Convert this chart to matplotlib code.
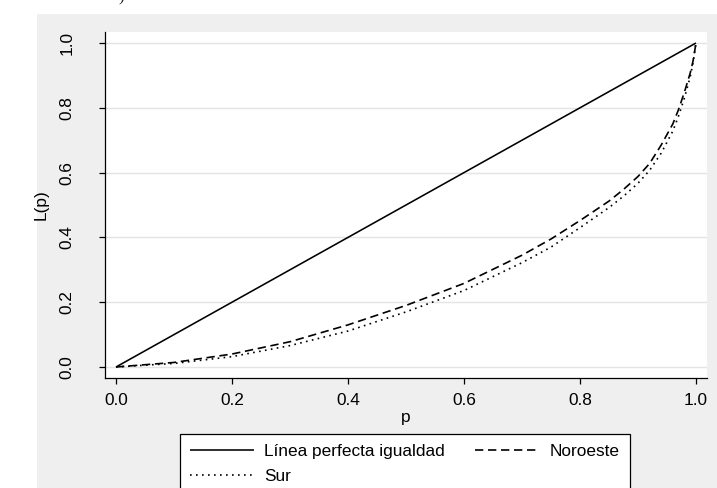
import numpy as np
import matplotlib
matplotlib.use("Agg")
import matplotlib.pyplot as plt
from matplotlib.patches import Rectangle

# Lorenz curve points (population share p, income share L(p))
p_noroeste = [0.0, 0.1, 0.2, 0.3, 0.4, 0.5, 0.6, 0.7, 0.75, 0.8, 0.85,
              0.875, 0.9, 0.92, 0.94, 0.96, 0.97, 0.98, 0.99, 0.995, 1.0]
l_noroeste = [0.0, 0.014, 0.040, 0.078, 0.130, 0.190, 0.258, 0.345, 0.395,
              0.452, 0.512, 0.548, 0.588, 0.628, 0.685, 0.750, 0.795,
              0.848, 0.907, 0.945, 1.0]

p_sur = [0.0, 0.1, 0.2, 0.3, 0.4, 0.5, 0.6, 0.7, 0.75, 0.8, 0.85,
         0.875, 0.9, 0.92, 0.94, 0.96, 0.97, 0.98, 0.99, 0.995, 1.0]
l_sur = [0.0, 0.011, 0.032, 0.066, 0.111, 0.170, 0.236, 0.322, 0.370,
         0.430, 0.492, 0.527, 0.567, 0.607, 0.660, 0.728, 0.775,
         0.830, 0.895, 0.940, 1.0]

p_igualdad = [0.0, 1.0]
l_igualdad = [0.0, 1.0]

ticks = [0.0, 0.2, 0.4, 0.6, 0.8, 1.0]
tick_labels = ["0.0", "0.2", "0.4", "0.6", "0.8", "1.0"]

plt.rcParams['font.family'] = ['Liberation Sans', 'DejaVu Sans']
plt.rcParams['font.size'] = 12.4

W, H = 717, 488
fig = plt.figure(figsize=(W / 100, H / 100), dpi=100, facecolor='white')

# light gray graph region behind the plot
fig.patches.append(Rectangle((37 / W, 0), 1 - 37 / W, 1 - 14 / H,
                             transform=fig.transFigure, facecolor='#efefef',
                             edgecolor='none', zorder=-5))

# leftover of surrounding text at the very top
fig.text(121 / W, 1 - 1 / H, ")", fontsize=12, family='Liberation Serif',
         ha='center', va='baseline', color='#222222')

ax = fig.add_axes([105 / W, 1 - 378 / H, (707 - 105) / W, (378 - 32) / H])
ax.set_zorder(2)
ax.set_facecolor('white')

ax.plot(p_igualdad, l_igualdad, color='black', lw=1.15, solid_capstyle='butt',
        label='Línea perfecta igualdad')
ax.plot(p_sur, l_sur, color='black', lw=1.2, dashes=(1.0, 2.6),
        label='Sur')
ax.plot(p_noroeste, l_noroeste, color='black', lw=1.2, dashes=(5.0, 2.8),
        label='Noroeste')

ax.set_xlim(-0.019, 1.019)
ax.set_ylim(-0.034, 1.034)

ax.set_xticks(ticks)
ax.set_xticklabels(tick_labels)
ax.set_yticks(ticks)
ax.set_yticklabels(tick_labels, rotation=90, va='center')

ax.grid(axis='y', color='#e4e4e4', lw=1)
ax.set_axisbelow(True)

for side in ['top', 'right']:
    ax.spines[side].set_visible(False)
for side in ['left', 'bottom']:
    ax.spines[side].set_color('black')
    ax.spines[side].set_linewidth(0.9)

ax.tick_params(axis='both', direction='out', length=4, width=0.9,
               color='black', labelcolor='black')
ax.tick_params(axis='x', pad=7)
ax.tick_params(axis='y', pad=18)

ax.set_xlabel("p", labelpad=1)
ax.set_ylabel("L(p)", labelpad=8)

leg = fig.legend(handles=ax.get_lines(), ncol=2, loc='upper left',
                 bbox_to_anchor=(180 / W, 1 - 434 / H),
                 bbox_transform=fig.transFigure, borderaxespad=0,
                 frameon=True, fancybox=False, framealpha=1,
                 edgecolor='black', facecolor='white',
                 handlelength=3.7, handletextpad=0.6, columnspacing=1.75,
                 borderpad=0.6, labelspacing=0.55)
leg.set_zorder(3)
leg.get_frame().set_linewidth(0.9)

fig.savefig("out.png", dpi=100, facecolor='white')
